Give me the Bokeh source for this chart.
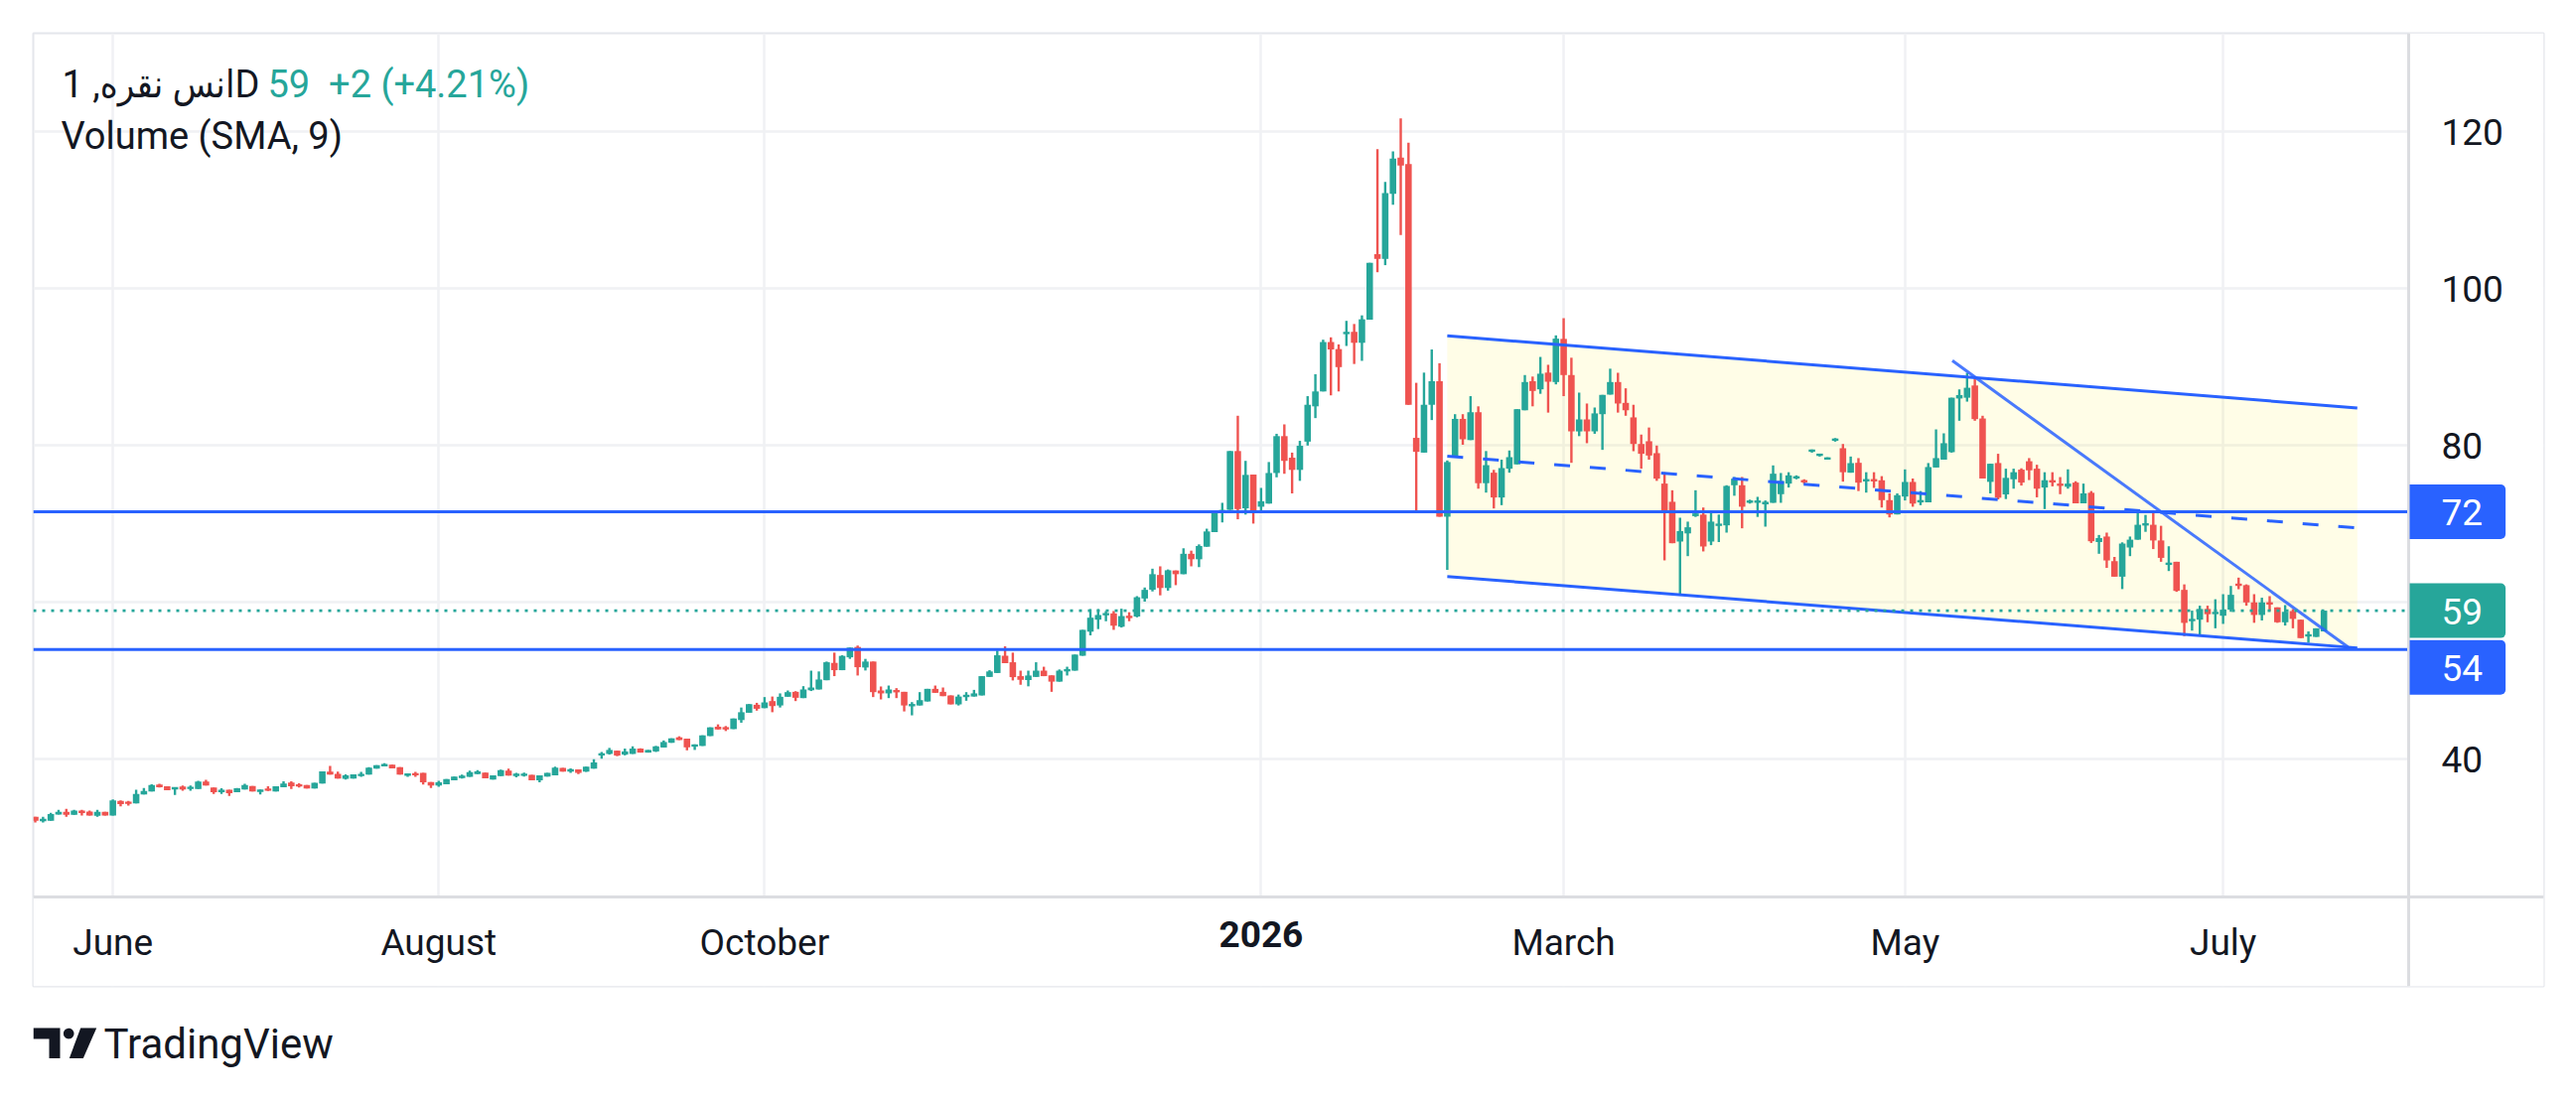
import numpy as np
import pandas as pd
from bokeh.plotting import figure
from bokeh.layouts import column
from bokeh.models import (ColumnDataSource, Range1d, LinearAxis, FixedTicker, Grid,
                          Span, Label, BoxAnnotation)
from bokeh.core.properties import field, value
from bokeh.embed import file_html
from bokeh.resources import INLINE

# ---------------- data ----------------
first_date = "2025-05-16"
holidays = ["2025-05-26", "2025-06-19", "2025-07-04", "2025-09-01", "2025-11-27",
            "2025-12-25", "2026-01-01", "2026-01-19", "2026-02-16", "2026-05-25",
            "2026-06-19", "2026-07-03"]

opens = [
    32.66, 32.2, 32.15, 32.96, 33.3, 32.92, 33.42, 33.34, 32.8, 33.3,
    32.83, 34.7, 34.53, 34.36, 35.5, 35.89, 36.77, 36.56, 36.18, 36.52,
    36.3, 36.22, 37.16, 36.39, 35.9, 36.1, 35.8, 36.14, 36.6, 35.85,
    36.2, 35.89, 36.44, 37.03, 36.77, 36.73, 36.27, 36.9, 38.43, 38.14,
    37.5, 37.54, 37.9, 38.05, 38.8, 39.2, 39.32, 39.0, 38.0, 38.18,
    38.26, 37.1, 36.65, 36.82, 37.33, 37.63, 37.75, 38.1, 38.3, 37.41,
    37.84, 38.56, 37.92, 37.95, 38.0, 37.33, 37.8, 37.96, 38.9, 38.47,
    38.7, 38.43, 38.81, 40.55, 40.68, 41.1, 40.6, 40.68, 41.36, 40.85,
    41.0, 41.5, 42.1, 42.8, 42.63, 41.6, 41.7, 42.96, 44.15, 44.1,
    43.85, 45.0, 45.93, 46.95, 46.52, 47.42, 46.86, 47.97, 48.6, 47.8,
    48.8, 48.9, 50.08, 52.29, 51.36, 53.0, 54.32, 51.7, 52.46, 48.77,
    48.4, 48.8, 48.6, 46.8, 46.86, 47.37, 48.98, 48.6, 48.14, 47.0,
    48.0, 48.0, 48.14, 50.5, 51.0, 53.2, 52.37, 50.6, 50.1, 50.5,
    51.3, 50.7, 49.9, 51.2, 51.3, 53.2, 56.27, 57.8, 58.4, 58.6,
    56.9, 58.2, 58.2, 60.5, 61.62, 63.5, 61.84, 64.07, 63.6, 66.2,
    65.5, 67.1, 68.96, 71.4, 71.8, 79.3, 72.0, 76.3, 72.2, 72.6,
    76.5, 81.2, 78.45, 76.9, 80.5, 85.0, 86.9, 93.2, 92.3, 94.2,
    94.5, 93.1, 96.05, 104.4, 103.8, 112.1, 116.7, 115.9, 80.98, 79.1,
    85.2, 88.2, 70.93, 78.7, 83.4, 80.7, 84.25, 75.2, 76.54, 73.38,
    77.05, 77.6, 84.5, 88.2, 87.17, 89.3, 88.1, 93.6, 88.99, 81.8,
    83.33, 81.81, 84.0, 86.5, 88.1, 85.44, 83.59, 80.2, 80.55, 79.03,
    75.15, 72.83, 67.76, 68.8, 71.0, 71.2, 67.76, 69.8, 69.83, 74.94,
    74.94, 72.8, 72.8, 72.5, 72.7, 73.8, 75.15, 75.9, 75.5, 79.3,
    78.75, 78.2, 80.7, 79.66, 76.54, 77.8, 75.5, 75.65, 75.57, 73.04,
    71.22, 73.5, 75.36, 72.8, 72.76, 77.2, 78.2, 79.16, 86.0, 86.1,
    87.66, 83.45, 75.37, 77.77, 73.77, 75.7, 76.93, 78.0, 77.05, 74.65,
    75.58, 75.15, 74.74, 75.28, 72.63, 73.98, 67.7, 68.4, 65.26, 63.28,
    67.0, 68.0, 69.9, 69.9, 67.9, 64.8, 65.18, 61.6, 57.6, 57.8,
    59.16, 58.5, 58.3, 59.07, 62.4, 62.2, 60.0, 58.4, 60.0, 59.37,
    57.47, 58.9, 57.8, 55.7, 55.6, 56.3,
]
highs = [
    32.66, 32.66, 33.17, 33.55, 33.68, 33.55, 33.55, 33.47, 33.55, 33.3,
    34.87, 34.74, 34.7, 36.1, 36.35, 36.8, 36.86, 36.56, 36.43, 36.65,
    36.65, 37.24, 37.37, 36.39, 36.3, 36.1, 36.35, 36.86, 36.6, 36.14,
    36.56, 36.56, 37.2, 37.2, 36.94, 36.73, 37.0, 38.47, 39.15, 38.43,
    38.09, 38.09, 38.39, 39.0, 39.24, 39.5, 39.32, 39.0, 38.18, 38.39,
    38.26, 37.1, 37.24, 37.46, 37.8, 38.05, 38.56, 38.6, 38.3, 37.96,
    38.68, 38.81, 38.26, 38.3, 38.0, 37.96, 38.26, 39.07, 38.9, 38.85,
    38.7, 39.07, 40.0, 40.93, 41.45, 41.1, 41.36, 41.65, 41.4, 41.19,
    41.7, 42.4, 42.67, 42.93, 42.63, 41.9, 43.05, 44.07, 44.45, 44.24,
    45.2, 46.6, 47.03, 47.2, 47.93, 48.0, 48.4, 48.77, 48.68, 49.32,
    51.3, 51.2, 52.46, 53.6, 53.26, 54.24, 54.5, 52.8, 52.46, 49.28,
    49.4, 49.07, 48.6, 47.29, 48.56, 48.98, 49.4, 49.15, 48.14, 48.25,
    48.56, 48.85, 50.6, 51.36, 53.86, 54.4, 53.6, 51.3, 51.3, 52.37,
    51.8, 50.7, 51.45, 51.8, 53.35, 56.5, 59.15, 59.15, 58.9, 58.9,
    59.2, 58.75, 60.8, 61.9, 64.3, 64.6, 64.2, 64.07, 66.9, 66.6,
    67.4, 69.4, 71.6, 72.7, 79.3, 83.8, 78.05, 76.3, 74.6, 77.9,
    81.5, 82.7, 79.1, 80.6, 86.3, 89.1, 93.5, 93.8, 92.9, 95.9,
    95.5, 96.6, 103.3, 117.8, 113.6, 117.5, 121.7, 118.6, 88.0, 89.3,
    92.25, 90.5, 78.1, 84.0, 84.0, 86.3, 85.0, 79.3, 76.9, 78.2,
    79.37, 84.64, 88.99, 88.8, 91.3, 90.3, 94.05, 96.24, 91.2, 86.75,
    85.36, 84.85, 86.46, 89.8, 89.28, 87.3, 85.2, 81.4, 82.3, 80.0,
    76.6, 74.3, 70.8, 70.3, 74.3, 72.1, 71.4, 71.2, 74.94, 75.99,
    75.99, 73.1, 73.46, 73.0, 77.47, 76.5, 76.6, 76.2, 75.7, 79.5,
    78.95, 78.5, 80.95, 80.2, 78.6, 78.4, 76.6, 76.6, 76.1, 73.9,
    73.9, 76.96, 75.8, 74.2, 77.77, 82.06, 81.56, 86.1, 87.16, 89.26,
    88.6, 83.8, 77.68, 78.95, 77.05, 77.05, 77.1, 78.4, 77.55, 76.6,
    76.6, 75.98, 76.97, 75.45, 75.15, 74.2, 68.6, 68.9, 65.8, 67.66,
    68.4, 71.37, 71.16, 71.58, 69.77, 67.16, 65.18, 62.3, 58.95, 59.58,
    59.58, 60.4, 61.05, 62.1, 63.16, 62.3, 61.05, 60.6, 60.8, 59.37,
    59.66, 59.15, 57.8, 56.3, 56.7, 58.95,
]
lows = [
    31.94, 31.94, 32.15, 32.96, 32.66, 32.92, 32.83, 32.83, 32.66, 32.83,
    32.83, 33.98, 34.1, 34.36, 35.5, 35.89, 36.4, 36.05, 35.46, 36.0,
    36.0, 36.22, 36.65, 35.59, 35.59, 35.33, 35.8, 36.14, 35.89, 35.5,
    35.97, 35.89, 36.44, 36.22, 36.39, 36.27, 36.27, 36.9, 38.05, 37.54,
    37.41, 37.54, 37.75, 38.05, 38.8, 39.1, 38.85, 38.05, 37.75, 37.75,
    36.77, 36.35, 36.48, 36.82, 37.33, 37.54, 37.75, 38.1, 37.58, 37.41,
    37.84, 37.92, 37.71, 37.8, 37.33, 37.07, 37.8, 37.96, 38.43, 38.26,
    38.1, 38.4, 38.81, 40.08, 40.6, 40.4, 40.5, 40.68, 40.85, 40.85,
    40.93, 41.5, 42.1, 42.45, 41.14, 41.19, 41.7, 42.96, 43.8, 43.6,
    43.85, 44.66, 45.93, 46.2, 46.52, 46.0, 46.6, 47.97, 47.42, 47.8,
    48.7, 48.9, 50.08, 50.6, 51.36, 52.8, 50.68, 51.32, 47.93, 47.63,
    47.8, 47.8, 46.1, 45.6, 46.86, 47.37, 48.47, 48.05, 47.0, 46.86,
    47.46, 48.0, 48.14, 50.5, 51.0, 52.25, 50.05, 49.5, 49.3, 50.5,
    50.6, 48.6, 49.9, 50.68, 51.3, 53.2, 55.8, 56.6, 57.6, 56.5,
    56.8, 57.6, 58.1, 60.1, 61.4, 60.9, 61.5, 62.2, 63.6, 64.6,
    64.5, 67.1, 68.96, 70.2, 71.8, 70.6, 71.2, 70.05, 71.4, 72.6,
    75.95, 76.4, 73.9, 75.5, 80.0, 83.5, 86.9, 86.4, 86.9, 92.7,
    90.4, 90.8, 96.05, 102.1, 103.0, 110.7, 106.85, 85.2, 71.45, 79.1,
    83.25, 70.93, 64.15, 78.7, 80.1, 80.7, 74.5, 74.0, 71.98, 72.4,
    76.54, 77.6, 84.5, 85.0, 86.6, 84.2, 87.8, 86.3, 77.8, 81.2,
    80.3, 81.5, 79.45, 86.5, 84.2, 83.8, 79.28, 77.05, 78.2, 75.5,
    65.36, 67.55, 60.9, 65.9, 70.9, 66.5, 67.3, 67.7, 68.9, 73.6,
    69.45, 72.6, 70.9, 69.66, 72.7, 72.7, 74.65, 75.7, 75.1, 79.1,
    78.6, 78.2, 80.5, 75.4, 76.54, 74.2, 74.0, 74.6, 72.1, 70.84,
    71.22, 73.0, 72.2, 72.4, 72.76, 77.2, 78.2, 79.1, 83.16, 85.6,
    83.16, 75.8, 73.9, 73.14, 73.18, 74.5, 74.9, 75.6, 73.4, 71.9,
    74.8, 73.8, 74.5, 72.63, 72.63, 67.58, 66.2, 64.4, 63.28, 61.7,
    65.9, 68.0, 69.0, 66.8, 65.18, 64.0, 61.35, 55.7, 56.4, 55.9,
    57.47, 56.7, 57.26, 58.8, 61.68, 59.58, 57.4, 57.7, 58.9, 57.4,
    57.05, 56.7, 55.45, 54.86, 55.6, 56.3,
]
closes = [
    32.15, 32.3, 33.0, 33.3, 32.92, 33.47, 33.17, 32.83, 33.3, 32.83,
    34.74, 34.27, 34.36, 35.59, 35.97, 36.73, 36.44, 36.05, 36.43, 36.14,
    36.4, 37.16, 36.65, 35.8, 36.0, 35.67, 36.31, 36.73, 35.89, 36.14,
    36.05, 36.56, 36.9, 36.56, 36.56, 36.27, 37.0, 38.47, 38.05, 37.54,
    37.96, 38.09, 38.1, 38.94, 39.24, 39.3, 38.85, 38.05, 38.1, 38.0,
    37.07, 36.65, 37.07, 37.46, 37.8, 37.88, 38.35, 38.47, 37.58, 37.96,
    38.6, 37.92, 38.1, 38.1, 37.33, 37.96, 38.26, 38.94, 38.43, 38.7,
    38.26, 39.07, 39.58, 40.7, 41.19, 40.47, 41.0, 41.36, 40.85, 41.19,
    41.65, 42.2, 42.67, 42.45, 41.52, 41.9, 43.05, 44.07, 43.8, 43.8,
    45.2, 46.0, 47.03, 46.44, 47.25, 46.78, 47.97, 48.56, 47.84, 48.9,
    49.15, 50.17, 52.37, 51.36, 53.18, 54.24, 51.74, 52.46, 48.56, 48.4,
    48.9, 48.56, 46.86, 47.0, 47.54, 48.98, 48.47, 48.05, 47.0, 48.0,
    48.15, 48.4, 50.6, 51.2, 53.26, 52.25, 50.47, 50.13, 50.68, 51.3,
    50.6, 49.9, 51.3, 51.5, 53.35, 56.5, 58.05, 58.4, 58.6, 57.03,
    58.26, 58.1, 60.66, 61.6, 63.6, 61.84, 64.1, 63.6, 66.2, 65.5,
    67.2, 69.05, 71.45, 71.8, 79.3, 71.9, 76.26, 71.5, 72.9, 76.5,
    81.2, 78.05, 76.9, 79.97, 85.2, 86.9, 93.2, 92.25, 90.0, 94.5,
    93.1, 96.1, 103.3, 103.8, 112.2, 116.6, 115.7, 85.2, 79.2, 85.2,
    88.2, 70.93, 77.9, 83.4, 80.8, 84.25, 75.2, 77.5, 73.38, 77.13,
    78.52, 84.64, 88.1, 86.96, 89.16, 88.14, 93.63, 88.99, 81.81, 83.33,
    81.81, 84.1, 86.46, 88.1, 85.36, 84.5, 80.2, 78.95, 78.73, 75.78,
    71.69, 67.55, 69.1, 69.58, 71.35, 67.13, 70.3, 70.0, 74.85, 75.78,
    72.2, 72.9, 72.9, 72.83, 76.41, 75.48, 76.2, 75.99, 75.4, 79.4,
    78.9, 78.5, 80.8, 76.6, 77.76, 75.27, 75.65, 75.5, 73.04, 71.22,
    73.67, 75.36, 72.6, 73.0, 77.26, 78.4, 80.3, 86.1, 86.44, 87.37,
    83.37, 75.8, 77.68, 73.35, 75.88, 76.6, 75.28, 76.84, 74.5, 75.58,
    75.3, 74.86, 75.15, 72.63, 73.9, 67.8, 68.2, 65.35, 63.28, 67.5,
    68.0, 69.9, 70.0, 67.9, 65.68, 65.05, 61.47, 57.39, 57.9, 59.16,
    58.5, 58.8, 59.07, 60.97, 62.1, 60.0, 58.4, 60.0, 59.75, 57.47,
    58.8, 57.9, 55.45, 55.9, 56.7, 58.95,
]

# drawings (bar index, price)
levels = [71.55, 54.0]
channel_x = [182.0, 299.3]
channel_upper = [94.0, 84.8]
channel_lower = [63.3, 54.2]
trend_x = [247.1, 298.1]
trend_y = [90.82, 54.3]

# axes
tick_months = [(2025, 6), (2025, 8), (2025, 10), (2026, 1), (2026, 3), (2026, 5), (2026, 7)]
tick_labels = ["June", "August", "October", "2026", "March", "May", "July"]
y_ticks = [40, 80, 100, 120]
y_grid = [40, 60, 80, 100, 120]

title_text = "انس نقره, 1D"
title_quote = "59\u00a0\u00a0+2 (+4.21%)"
indicator_text = "Volume (SMA, 9)"

# ---------------- styling / layout ----------------
UP, DOWN = "#26a69a", "#ef5350"
BLUE = "#2962ff"
TXT = "#131722"
GRID = "#f0f1f4"
SEP = "#dcdde1"
BORDER = "#e4e6eb"
FONT = "Roboto"
FS = "37px"

W = 2586
LEFT, TOP = 33, 33            # outer box of the chart (page px)
RIGHT, BOTTOM = 2561, 993
SEP_X, SEP_Y = 2425, 903      # price-scale / time-scale separators
BAR_PX = 7.8124               # pixels per bar
X0 = -0.26                    # bar index at the left edge
PX_PER_UNIT = 7.9
Y_TOP = 132.57                # price at the top edge
PH = BOTTOM + 4

x_sep = X0 + (SEP_X - LEFT) / BAR_PX
x_end = X0 + (RIGHT - LEFT) / BAR_PX
y_sep = Y_TOP - (SEP_Y - TOP) / PX_PER_UNIT
y_bot = Y_TOP - (BOTTOM - TOP) / PX_PER_UNIT

n = len(closes)
dates = pd.bdate_range(start=first_date, periods=n, freq="C", holidays=holidays)

tick_idx, tick_text, bold_ticks = [], [], []
for i in range(1, n):
    d, prev = dates[i], dates[i - 1]
    if d.month != prev.month and (d.year, d.month) in tick_months:
        k = tick_months.index((d.year, d.month))
        tick_idx.append(i)
        if d.month == 1:
            tick_text.append("")
            bold_ticks.append((i, tick_labels[k]))
        else:
            tick_text.append(tick_labels[k])

o = np.array(opens); h = np.array(highs); l = np.array(lows); c = np.array(closes)
x = np.arange(n)
up = c >= o
top = np.maximum(o, c)
bot = np.minimum(o, c)
thin = (top - bot) < 0.3
mid = (top + bot) / 2
top = np.where(thin, mid + 0.15, top)
bot = np.where(thin, mid - 0.15, bot)
cols = np.where(up, UP, DOWN)
src = ColumnDataSource(dict(x=x, h=h, l=l, top=top, bot=bot, col=cols))

p = figure(width=W, height=PH, x_range=Range1d(X0, x_end), y_range=Range1d(y_bot, Y_TOP),
           output_backend="svg", toolbar_location=None, y_axis_location=None,
           min_border_left=LEFT, min_border_right=W - RIGHT, min_border_top=TOP,
           min_border_bottom=PH - BOTTOM,
           background_fill_color="white", border_fill_color="white")
p.outline_line_color = BORDER
p.outline_line_width = 2

# grids (covered outside the price pane by white boxes)
p.xgrid.ticker = FixedTicker(ticks=tick_idx)
p.xgrid.grid_line_color = GRID
p.xgrid.grid_line_width = 2.5
p.add_layout(Grid(dimension=1, ticker=FixedTicker(ticks=y_grid), grid_line_color=GRID,
                  grid_line_width=2.5))
p.add_layout(BoxAnnotation(left=x_sep, right=x_end, bottom=y_bot, top=Y_TOP, fill_color="white",
                           fill_alpha=1, line_color=None, level="underlay"))
p.add_layout(BoxAnnotation(left=X0, right=x_end, bottom=y_bot, top=y_sep, fill_color="white",
                           fill_alpha=1, line_color=None, level="underlay"))

# time scale (labels pulled up into the time strip)
xa = p.xaxis[0]
xa.ticker = FixedTicker(ticks=tick_idx)
xa.major_label_overrides = {int(i): t for i, t in zip(tick_idx, tick_text)}
xa.major_tick_out = 0
xa.major_tick_in = 0
xa.minor_tick_out = 0
xa.minor_tick_in = 0
xa.major_label_standoff = (SEP_Y + 24) - BOTTOM
xa.axis_line_color = None
xa.major_label_text_font = FONT
xa.major_label_text_font_size = FS
xa.major_label_text_color = TXT

# price scale (labels pulled left into the price strip)
LAB_X = SEP_X + 33
ra = LinearAxis(ticker=FixedTicker(ticks=y_ticks), major_tick_out=0, major_tick_in=0,
                minor_tick_out=0, minor_tick_in=0, major_label_standoff=LAB_X - RIGHT,
                axis_line_color=None,
                major_label_text_font=FONT, major_label_text_font_size=FS,
                major_label_text_color=TXT)
p.add_layout(ra, "right")

# separators
p.add_layout(Span(location=x_sep, dimension="height", line_color=SEP, line_width=3))
p.add_layout(Span(location=y_sep, dimension="width", line_color=SEP, line_width=3))

# channel fill
p.patch(x=[channel_x[0], channel_x[1], channel_x[1], channel_x[0]],
        y=[channel_upper[0], channel_upper[1], channel_lower[1], channel_lower[0]],
        fill_color="#ffeb3b", fill_alpha=0.12, line_color=None)

# candles
p.segment(x0="x", y0="l", x1="x", y1="h", line_color=field("col"), line_width=2.4, source=src)
p.vbar(x="x", width=0.84, top="top", bottom="bot", fill_color=field("col"), line_color=None, source=src)

# channel and trend lines
p.line(channel_x, channel_upper, line_color=BLUE, line_width=3)
p.line(channel_x, channel_lower, line_color=BLUE, line_width=3)
p.line(channel_x, [(a + b) / 2 for a, b in zip(channel_upper, channel_lower)],
       line_color=BLUE, line_width=3, line_dash="16 20")
p.line(trend_x, trend_y, line_color=BLUE, line_width=3, line_alpha=0.85)

# horizontal levels and last price line (across the price pane only)
k = len(levels)
p.segment(x0=[X0] * k, y0=levels, x1=[x_sep] * k, y1=levels, line_color=BLUE, line_width=3)
last = closes[-1]
p.segment(x0=[X0], y0=[last], x1=[x_sep], y1=[last], line_color=UP, line_width=2.7, line_dash="3 6")

# price scale labels (box anchored at the separator; padding = left, right, top, bottom)
def price_label(v, color, yoff=0):
    p.add_layout(Label(x=SEP_X + 1, x_units="canvas", y=v, y_units="data", y_offset=yoff,
                       text=f"{v:.0f}", text_align="left", text_baseline="middle",
                       text_color="white", text_font=FONT, text_font_size=FS,
                       background_fill_color=color, padding=(32, 23, 15, 14),
                       border_radius=(0, 5, 5, 0)))
price_label(levels[0], BLUE)
price_label(last, UP)
price_label(levels[1], BLUE, -18)

# bold year label on the time scale
for i, t in bold_ticks:
    p.add_layout(Label(x=i, x_units="data", y=SEP_Y + 24, y_units="canvas",
                       text=t, text_align="center", text_baseline="top",
                       text_font=FONT, text_font_size=FS, text_font_style="bold",
                       text_color=TXT))

# legend texts
p.add_layout(Label(x=62, y=84.5, x_units="canvas", y_units="canvas", text=title_text,
                   text_align="left", text_baseline="middle",
                   text_font="Roboto, DejaVu Sans Condensed, DejaVu Sans",
                   text_font_size="38px", text_color=TXT))
p.add_layout(Label(x=269, y=84.5, x_units="canvas", y_units="canvas", text=title_quote,
                   text_align="left", text_baseline="middle", text_font=FONT,
                   text_font_size="38px", text_color=UP))
p.add_layout(Label(x=61, y=136.5, x_units="canvas", y_units="canvas", text=indicator_text,
                   text_align="left", text_baseline="middle", text_font=FONT,
                   text_font_size="38px", text_color=TXT))

# ---------------- footer with the TradingView logo ----------------
FH = 86
f = figure(width=W, height=FH, x_range=Range1d(LEFT, RIGHT), y_range=Range1d(FH, 0),
           output_backend="svg", toolbar_location=None, x_axis_location=None,
           y_axis_location=None, min_border=0, background_fill_color="white",
           border_fill_color="white")
f.outline_line_color = None
f.grid.visible = False
fy = 1035 - PH  # top of logo inside the footer
ang = np.linspace(0, 2 * np.pi, 40)
f.patches(xs=[[33, 60, 60, 49, 49, 33],
              list(68.7 + 5.3 * np.cos(ang)),
              [80.7, 96.7, 83.3, 69.3]],
          ys=[[fy, fy, fy + 30.5, fy + 30.5, fy + 11, fy + 11],
              list(fy + 5.6 + 5.3 * np.sin(ang)),
              [fy, fy, fy + 30.5, fy + 30.5]],
          fill_color=TXT, line_color=None)
f.text(x=[104], y=[fy + 15.8], text=["TradingView"], text_font=value(FONT),
       text_font_size="42px", text_baseline="middle", text_align="left", text_color=TXT)

layout = column(p, f, spacing=0)
open("out.html", "w").write(file_html(layout, INLINE))
